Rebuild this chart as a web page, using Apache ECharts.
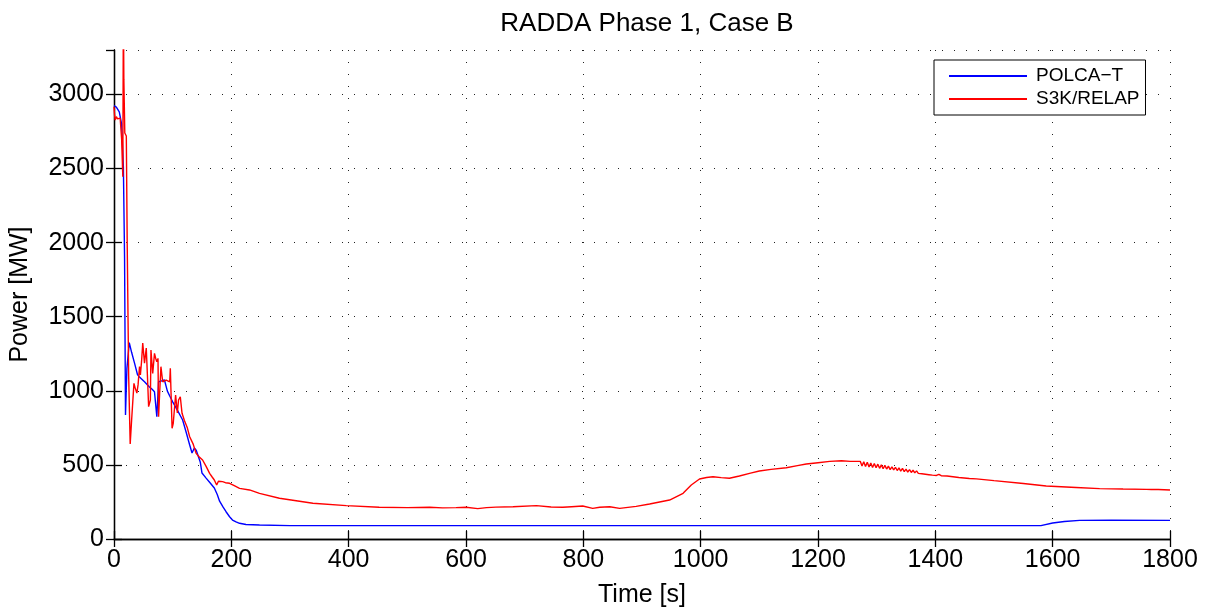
<!DOCTYPE html>
<html><head><meta charset="utf-8">
<script src="https://cdn.jsdelivr.net/npm/echarts@6/dist/echarts.min.js"></script>
<style>html,body{margin:0;padding:0;background:#fff}#c{width:1210px;height:614px}</style>
</head><body><div id="c"></div>
<script>
const title = 'RADDA Phase 1, Case B';
const xTicks = [0,200,400,600,800,1000,1200,1400,1600,1800];
const yTicks = [0,500,1000,1500,2000,2500,3000];
const seriesNames = ['POLCA\u2212T', 'S3K/RELAP'];

// [time s, power MW]
const polcaData = [
  [0,2924],[4,2915],[9,2883],[13,2800],[16,2510],[18,1900],[19.6,837],[22,1150],[26,1325],[30,1260],
  [35,1187],[40,1110],[43,1095],[47,1080],[52,1061],[56,1045],[60,1028],[65,1010],[69,994],[73,825],
  [76,1061],[80,1065],[86,1073],[89,1066],[91,998],[95,965],[100,926],[108,870],[117,803],[123,720],
  [129,634],[133,580],[137,614],[140,600],[143,589],[147,520],[150,445],[157,411],[164,378],[171,344],
  [176,300],[180,255],[186,215],[191,184],[197,150],[202,128],[208,115],[214,106],[225,98],[248,94],
  [300,90],[400,90],[600,90],[800,90],[1000,90],[1200,90],[1400,90],[1580,90],[1583,99],[1600,108],
  [1620,118],[1646,126],[1700,127],[1800,126]
];

const s3kData = [
  [0,2917],[1,2860],[2,2827],[4,2850],[6,2835],[8,2845],[10.5,2840],[13,2700],[15,2445],[16,3600],
  [16.8,3100],[18.4,2740],[20,2750],[21,2720],[22.5,2000],[25,1100],[27.6,641],[30,800],[34,1050],[36,1020],
  [39,985],[41,1040],[43.5,1163],[45,1107],[47,1200],[49,1322],[52,1187],[55,1289],[57,1100],[59,893],
  [62,938],[63,1275],[66,1118],[69,1253],[71,1220],[73,1196],[75,1219],[76,825],[78,1000],[80,1163],
  [83,1061],[86,1070],[89,1073],[92,1068],[95,1061],[96,1152],[99,747],[101,781],[105,972],[108,850],
  [110,938],[113,960],[116,848],[120,800],[125,750],[129,690],[135,640],[140,578],[145,555],[151,533],
  [157,490],[163,443],[167,420],[171,398],[175,364],[178,390],[180,398],[185,387],[190,380],[197,376],
  [205,360],[214,342],[231,331],[248,308],[282,275],[339,241],[396,225],[452,214],[500,212],[538,214],
  [560,210],[583,212],[600,214],[620,205],[635,212],[651,215],[680,218],[720,225],[745,216],[765,214],
  [780,218],[799,223],[816,207],[828,214],[845,218],[862,207],[890,220],[913,236],[947,263],[970,308],
  [984,364],[998,405],[1010,415],[1021,420],[1035,414],[1049,410],[1066,425],[1085,445],[1100,459],[1120,470],
  [1146,481],[1165,495],[1180,506],[1200,515],[1220,524],[1240,528],[1255,524],[1272,524],
  [1275,492],[1278,522],[1281,489],[1284,518],[1287,486],[1290,513],[1293,483],[1296,509],[1299,481],[1302,505],
  [1305,477],[1308,500],[1311,474],[1314,497],[1317,472],[1320,492],[1323,468],[1326,487],[1329,466],[1332,484],
  [1335,462],[1338,480],[1341,458],[1344,476],[1347,455],[1350,472],[1353,452],[1356,468],[1359,449],[1362,464],
  [1365,446],[1368,460],[1371,443],[1374,456],[1377,440],[1380,451],[1383,437],[1386,447],[1389,434],[1392,443],
  [1395,431],[1398,440],[1402,429],[1406,436],[1410,427],[1420,425],[1440,415],[1458,408],[1470,406],[1500,394],
  [1550,375],[1589,358],[1640,348],[1680,340],[1720,337],[1760,335],[1763,328],[1768,334],[1780,334],[1800,331]
];

const chart = echarts.init(document.getElementById('c'));
const FONT = 'Liberation Sans, Arial, Helvetica, sans-serif';
const axisCommon = {
  axisLine: { show: true, lineStyle: { color: '#000', width: 1.3 } },
  axisTick: { show: true, inside: true, length: 8, lineStyle: { color: '#000', width: 1.3 } },
};
const gridDots = { show: true, lineStyle: { color: '#222', type: [1, 11], width: 1 } };
chart.setOption({
  animation: false,
  backgroundColor: '#fff',
  textStyle: { fontFamily: FONT },
  title: { text: title, left: 642, textAlign: 'center', top: 6, textStyle: { fontFamily: FONT, fontSize: 26, fontWeight: 'normal', color: '#000' } },
  grid: { left: 114, right: 40, top: 50, bottom: 75, show: false },
  legend: {
    data: seriesNames, orient: 'vertical', left: 934, top: 60,
    backgroundColor: '#fff', borderColor: '#000', borderWidth: 1, borderRadius: 0,
    icon: 'rect',
    padding: [6, 6, 6, 15], itemGap: 3, itemWidth: 78, itemHeight: 2,
    textStyle: { fontFamily: FONT, fontSize: 19, lineHeight: 20, color: '#000', padding: [0, 0, 0, 4] }
  },
  xAxis: [
    Object.assign({ type: 'value', min: 0, max: 1800, interval: 200, position: 'bottom',
      name: 'Time [s]', nameLocation: 'middle', nameGap: 44,
      nameTextStyle: { fontFamily: FONT, fontSize: 25, color: '#000' },
      axisLabel: { fontFamily: FONT, fontSize: 25, color: '#000', margin: 9, formatter: v => String(v) },
      splitLine: gridDots }, axisCommon),
    Object.assign({ type: 'value', min: 0, max: 1800, interval: 200, position: 'top',
      axisLabel: { show: false }, splitLine: { show: false } }, axisCommon)
  ],
  yAxis: [
    Object.assign({ type: 'value', min: 0, max: 3300, interval: 500, position: 'left',
      name: 'Power [MW]', nameLocation: 'middle', nameGap: 81,
      nameTextStyle: { fontFamily: FONT, fontSize: 25, color: '#000' },
      axisLabel: { fontFamily: FONT, fontSize: 25, color: '#000', margin: 10, showMaxLabel: false, formatter: v => String(v) },
      splitLine: gridDots }, axisCommon),
    Object.assign({ type: 'value', min: 0, max: 3300, interval: 500, position: 'right',
      axisLabel: { show: false }, splitLine: { show: false } }, axisCommon)
  ],
  series: [
    { name: seriesNames[0], type: 'line', data: polcaData, showSymbol: false, symbol: 'none', sampling: undefined,
      lineStyle: { color: '#0000ff', width: 1.4 }, itemStyle: { color: '#0000ff' }, clip: true, z: 3 },
    { name: seriesNames[1], type: 'line', data: s3kData, showSymbol: false, symbol: 'none', sampling: undefined,
      lineStyle: { color: '#ff0000', width: 1.4 }, itemStyle: { color: '#ff0000' }, clip: true, z: 4 }
  ]
});
</script></body></html>
